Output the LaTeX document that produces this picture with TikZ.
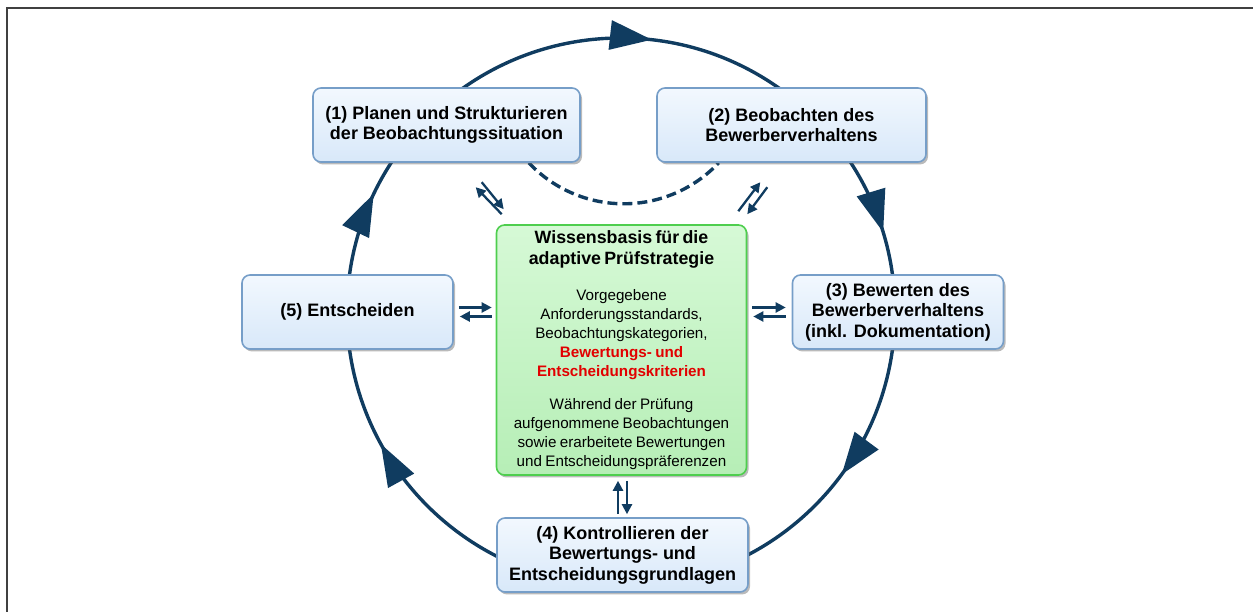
\documentclass[tikz,border=0pt]{standalone}
\usepackage{fontspec}
\setmainfont{Liberation Sans}
\usetikzlibrary{positioning}
\usetikzlibrary{arrows.meta}
\usetikzlibrary{shadows}
\usetikzlibrary{backgrounds}
\usetikzlibrary{decorations.markings}

\definecolor{cycblue}{RGB}{16,60,96}
\definecolor{phasetop}{RGB}{242,248,254}
\definecolor{phasebot}{RGB}{216,232,249}
\definecolor{phaseline}{RGB}{118,158,200}
\definecolor{kbtop}{RGB}{214,249,214}
\definecolor{kbbot}{RGB}{182,238,182}
\definecolor{kbline}{RGB}{78,206,78}
\definecolor{critred}{RGB}{226,0,0}

\newcommand\phasefont{\fontsize{18}{20.5}\selectfont\bfseries}
\newcommand\kbtitle{\fontsize{17.8}{20.7}\selectfont\bfseries}
\newcommand\kbtext{\fontsize{15.2}{18.8}\selectfont}

\begin{document}
\begin{tikzpicture}[
    x=1pt,y=1pt,
    phase/.style={rectangle,rounded corners=8pt,draw=phaseline,line width=1.6pt,
      top color=phasetop,bottom color=phasebot,align=center,font=\phasefont,
      drop shadow={shadow xshift=2pt,shadow yshift=-2.5pt,fill=black!60,opacity=.45}},
    kbase/.style={rectangle,rounded corners=8pt,draw=kbline,line width=1.6pt,
      top color=kbtop,bottom color=kbbot,align=center,text width=240pt,
      minimum width=250pt,minimum height=250pt,inner sep=5pt,
      drop shadow={shadow xshift=2pt,shadow yshift=-2.5pt,fill=black!60,opacity=.45}},
    cyc/.style={cycblue,line width=3.4pt},
    cyc arrows/.style={postaction={decorate,decoration={markings,
      mark=at position 0.018 with {\arrow{Triangle[length=42pt,width=29pt]}},
      mark=at position 0.203 with {\arrow{Triangle[length=42pt,width=29pt]}},
      mark=at position 0.351 with {\arrow{Triangle[length=42pt,width=29pt]}},
      mark=at position 0.670 with {\arrow{Triangle[length=42pt,width=29pt]}},
      mark=at position 0.821 with {\arrow{Triangle[length=42pt,width=29pt]}}}}},
    xchg/.style={cycblue,line width=2.3pt,-{Triangle[length=10pt,width=10pt]}}
    ]
    \useasboundingbox (0,0) rectangle (1253,612);
    % frame, only left and top edge visible
    \draw[black!75,line width=2pt] (6.7,0) -- (6.7,604.3) -- (1253,604.3);
    % knowledge base in the middle
    \node[kbase] (kb) at (621.5,262) {%
      {\kbtitle Wissensbasis für die\\adaptive Prüfstrategie\par}
      \vspace{18pt}
      {\kbtext Vorgegebene\\Anforderungsstandards,\\Beobachtungskategorien,\\
        {\bfseries\color{critred}Bewertungs- und\\Entscheidungskriterien}\par}
      \vspace{15pt}
      {\kbtext Während der Prüfung\\aufgenommene Beobachtungen\\
        sowie erarbeitete Bewertungen\\und Entscheidungspräferenzen\par}
      \vspace{6pt}};
    % the five phases
    \node[phase,minimum width=267pt,minimum height=74pt] (b1) at (446.5,487)
      {(1) Planen und Strukturieren\\der Beobachtungssituation};
    \node[phase,minimum width=269pt,minimum height=74pt] (b2) at (791.5,487)
      {(2) Beobachten des\\Bewerberverhaltens};
    \node[phase,minimum width=211pt,minimum height=74pt] (b3) at (898,300)
      {(3) Bewerten des\\Bewerberverhaltens\\(inkl. Dokumentation)};
    \node[phase,minimum width=251pt,minimum height=74pt] (b4) at (622.5,57)
      {(4) Kontrollieren der\\Bewertungs- und\\Entscheidungsgrundlagen};
    \node[phase,minimum width=211pt,minimum height=74pt] (b5) at (347.5,300)
      {(5) Entscheiden};
    \coordinate (ctr) at (621,300);
    \coordinate (dstart) at ([xshift=-52pt]b1.south east);
    % cycle and shortcut behind the boxes
    \begin{scope}[on background layer]
      \draw[cyc,cyc arrows] ([shift={(90:274pt)}]ctr)
        arc[start angle=90,end angle=-270,radius=274pt];
      \draw[cyc,dash pattern=on 10pt off 5pt] (dstart)
        arc[start angle=223.3,end angle=316.7,radius=130.5pt];
    \end{scope}
    % exchange with the knowledge base
    \draw[xchg] ([shift={(6pt,10pt)}]kb.north west) -- ([shift={(-20pt,37pt)}]kb.north west);
    \draw[xchg] ([shift={(-14pt,42pt)}]kb.north west) -- ([shift={(8pt,15pt)}]kb.north west);
    \draw[xchg] ([shift={(-9pt,13pt)}]kb.north east) -- ([shift={(13pt,42pt)}]kb.north east);
    \draw[xchg] ([shift={(20pt,37pt)}]kb.north east) -- ([shift={(0pt,10pt)}]kb.north east);
    \draw[xchg] ([shift={(5pt,4.5pt)}]b5.east) -- ([shift={(-4pt,4.5pt)}]b5.east -| kb.west);
    \draw[xchg] ([shift={(-4pt,-4.5pt)}]b5.east -| kb.west) -- ([shift={(6pt,-4.5pt)}]b5.east);
    \draw[xchg] ([shift={(5pt,4.5pt)}]b3.west -| kb.east) -- ([shift={(-6pt,4.5pt)}]b3.west);
    \draw[xchg] ([shift={(-6pt,-4.5pt)}]b3.west) -- ([shift={(6pt,-4.5pt)}]b3.west -| kb.east);
    \draw[xchg] ([xshift=-4.5pt,yshift=3pt]b4.north) -- ([xshift=-4.5pt,yshift=-5pt]b4.north |- kb.south);
    \draw[xchg] ([xshift=4.5pt,yshift=-5pt]b4.north |- kb.south) -- ([xshift=4.5pt,yshift=3pt]b4.north);
\end{tikzpicture}
\end{document}
